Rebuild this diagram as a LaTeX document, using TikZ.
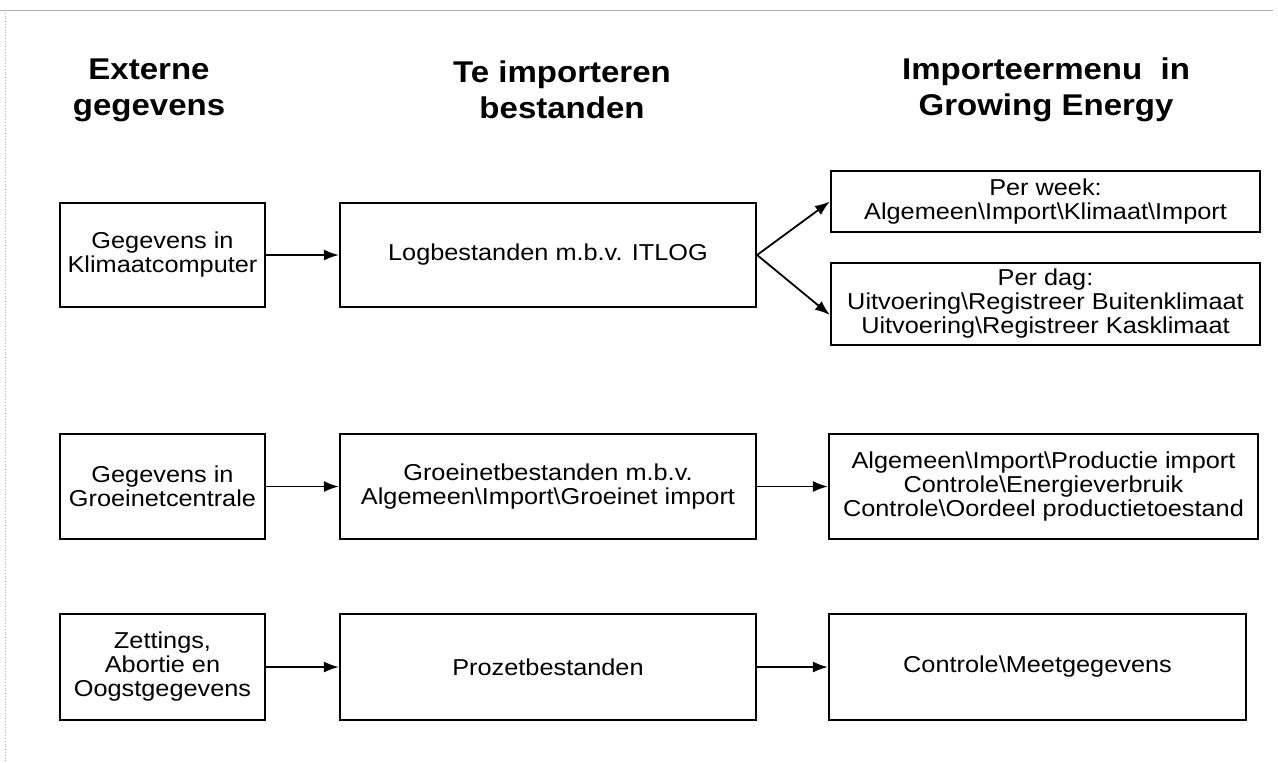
\documentclass[tikz,border=0pt]{standalone}
\usepackage{fontspec}
\setmainfont{Liberation Sans}
\newfontfamily\boxfont[FakeStretch=1.1]{Liberation Sans}
\usepackage{tikz}
\usetikzlibrary{arrows.meta,positioning}
\tikzset{
  box/.style={draw=black,line width=1.1pt,align=center,inner sep=3pt,
              font=\boxfont\fontsize{11.5}{12}\selectfont},
  head/.style={align=center,font=\boxfont\fontsize{15}{18}\selectfont\bfseries},
  flow/.style={-{Latex[length=7.5pt,width=5.5pt]},line width=0.9pt}
}
\begin{document}
\begin{tikzpicture}[x=0.5pt,y=-0.5pt]
    \path[use as bounding box] (0,0) rectangle (1278,762);
    % scan edges
    \draw[gray!60,line width=0.4pt] (0,10) -- (1273,10);
    \draw[gray!60,line width=0.4pt,densely dotted] (5,10) -- (5,762);
    % column heads
    \node[head] (hext) at (149,90) {Externe\\gegevens};
    \node[head] (himp) at (562,90) {Te importeren\\bestanden};
    \node[head] (hmen) at (1046,90) {Importeermenu~ in\\Growing Energy};
    % row 1
    \node[box,minimum width=102.5pt,minimum height=52pt] (klimaat) at (162.5,255)
      {Gegevens in\\Klimaatcomputer};
    \node[box,minimum width=208pt,minimum height=52pt] (log) at (548,255)
      {Logbestanden m.b.v. ITLOG};
    \node[box,minimum width=214.5pt,minimum height=30.5pt] (week) at (1045.5,201.5)
      {Per week:\\Algemeen\textbackslash Import\textbackslash Klimaat\textbackslash Import};
    \node[box,minimum width=214.5pt,minimum height=39pt] (dag) at (1045.5,304)
      {Per dag:\\Uitvoering\textbackslash Registreer Buitenklimaat\\
       Uitvoering\textbackslash Registreer Kasklimaat};
    % row 2
    \node[box,minimum width=102.5pt,minimum height=52.5pt] (groeinet) at (162.5,486.5)
      {Gegevens in\\Groeinetcentrale};
    \node[box,minimum width=208pt,minimum height=52.5pt] (groeibest) at (548,486.5)
      {Groeinetbestanden m.b.v.\\Algemeen\textbackslash Import\textbackslash Groeinet import};
    \node[box,minimum width=214.5pt,minimum height=52.5pt] (productie) at (1043.5,486.5)
      {Algemeen\textbackslash Import\textbackslash Productie import\\
       Controle\textbackslash Energieverbruik\\
       Controle\textbackslash Oordeel productietoestand};
    % row 3
    \node[box,minimum width=102.5pt,minimum height=53pt] (oogst) at (162.5,667)
      {Zettings,\\Abortie en\\Oogstgegevens};
    \node[box,minimum width=208pt,minimum height=53pt] (prozet) at (548,667)
      {Prozetbestanden};
    \node[box,minimum width=208.5pt,minimum height=53pt] (meet) at (1037.5,667)
      {Controle\textbackslash Meetgegevens};
    % arrows
    \draw[flow] (klimaat) -- (log);
    \draw[flow] (log.east) -- (week.west);
    \draw[flow] (log.east) -- ([yshift=-5.5pt]dag.west);
    \draw[flow] (groeinet) -- (groeibest);
    \draw[flow] (groeibest) -- (productie);
    \draw[flow] (oogst) -- (prozet);
    \draw[flow] (prozet) -- (meet);
\end{tikzpicture}
\end{document}
